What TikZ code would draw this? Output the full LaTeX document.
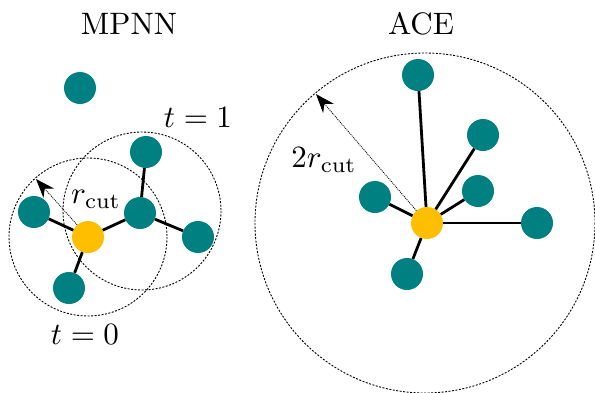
\documentclass[tikz,border=0pt]{standalone}
\usepackage{graphicx}
\usetikzlibrary{arrows.meta}
\definecolor{atomteal}{RGB}{0,128,128}
\definecolor{atomgold}{RGB}{255,190,0}
\newcommand{\biglbl}[1]{\scalebox{3.1}{#1}}
\begin{document}
\begin{tikzpicture}[x=1pt,y=-1pt,
  atom/.style={circle,fill=atomteal,inner sep=0pt,minimum size=32pt},
  centre/.style={circle,fill=atomgold,inner sep=0pt,minimum size=32pt},
  bond/.style={line width=2.8pt},
  cutoff/.style={line width=0.9pt,dash pattern=on 2pt off 1.5pt},
  radius arrow/.style={line width=0.8pt,dash pattern=on 1pt off 1pt,-{Stealth[length=19pt,width=14pt,inset=6pt]}},
  lbl/.style={font=\fontsize{10}{12}\selectfont,inner sep=0pt}]
\useasboundingbox (0,0) rectangle (595,392);
\clip (0,0) rectangle (595,392);
% titles
\node[lbl] (tmpnn) at (129,24) {\biglbl{MPNN}};
\node[lbl] (tace) at (421,24) {\biglbl{ACE}};
% ---------- MPNN ----------
\coordinate (c0) at (88,237);
\coordinate (c1) at (142,211);
\draw[cutoff] (c0) circle[radius=79];
\draw[cutoff] (c1) circle[radius=79];
\node[atom] (iso) at (80,88) {};
\node[centre] (y0) at (88,237) {};
\node[atom] (aL) at (34,212) {};
\node[atom] (aB) at (69,288) {};
\node[atom] (aM) at (140,213) {};
\node[atom] (aT) at (146,152) {};
\node[atom] (aR) at (198,237) {};
\draw[bond] (y0) -- (aL);
\draw[bond] (y0) -- (aB);
\draw[bond] (y0) -- (aM);
\draw[bond] (aM) -- (aT);
\draw[bond] (aM) -- (aR);
\coordinate (rtip) at (36,179);
\draw[radius arrow] (y0) -- (rtip);
\node[lbl] (rlab) at (96,199) {\biglbl{$r_{\mathrm{cut}}$}};
\node[lbl] (t1) at (198,118) {\biglbl{$t=1$}};
\node[lbl] (t0) at (85,335) {\biglbl{$t=0$}};
% ---------- ACE ----------
\coordinate (cA) at (425,223);
\draw[cutoff] (cA) circle[radius=170];
\node[centre] (yA) at (427,223) {};
\node[atom] (bT) at (418,75) {};
\node[atom] (bUR) at (483,135) {};
\node[atom] (bMR) at (478,191) {};
\node[atom] (bR) at (537,223) {};
\node[atom] (bL) at (375,197) {};
\node[atom] (bB) at (407,274) {};
\foreach \n in {bT,bUR,bMR,bR,bL,bB} \draw[bond] (yA) -- (\n);
\coordinate (Rtip) at (316,94);
\draw[radius arrow] (yA) -- (Rtip);
\node[lbl] (Rlab) at (324,160) {\biglbl{$2r_{\mathrm{cut}}$}};
\end{tikzpicture}
\end{document}
